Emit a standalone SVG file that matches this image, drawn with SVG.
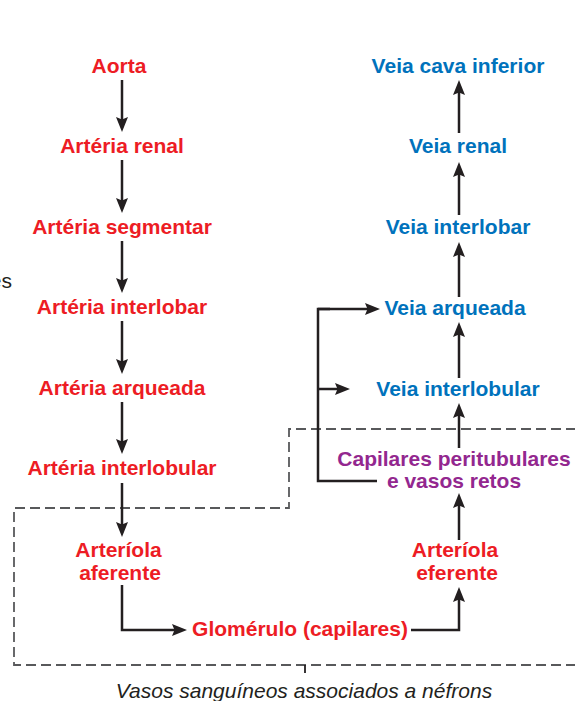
<svg xmlns="http://www.w3.org/2000/svg" width="575" height="701" viewBox="0 0 575 701">
  <style>
    .lbl { font-family: "Liberation Sans", Arial, sans-serif; font-weight: bold; font-size: 21px; text-anchor: middle; }
    .art { fill: #ed1c24; }
    .vein { fill: #0072bc; }
    .cap { fill: #93278f; }
    .flow { fill: none; stroke: #231f20; stroke-width: 2.5; marker-end: url(#head); }
    .wire { fill: none; stroke: #231f20; stroke-width: 2.5; }
    .zone { fill: none; stroke: #58595b; stroke-width: 1.8; stroke-dasharray: 10 5; }
    .note { font-family: "Liberation Sans", Arial, sans-serif; font-size: 21px; fill: #231f20; }
  </style>
  <defs>
    <marker id="head" markerUnits="userSpaceOnUse" markerWidth="16" markerHeight="14" viewBox="0 -7 16 14" refX="7" refY="0" orient="auto">
      <path d="M0,-6 L15,0 L0,6 L2.5,0 z" fill="#231f20"/>
    </marker>
  </defs>

  <rect width="575" height="701" fill="#ffffff"/>

  <!-- side label running off the left edge -->
  <text class="note" x="12" y="288" text-anchor="end">es</text>

  <!-- nephron-associated vessels zone -->
  <g id="nephron-zone">
    <path class="zone" d="M576,429 H289 V508 H14 V665 H576"/>
    <path d="M305,665 V673" stroke="#231f20" stroke-width="1.8" fill="none"/>
    <text class="note" x="304" y="698" text-anchor="middle" font-style="italic" font-size="21.2">Vasos sanguíneos associados a néfrons</text>
  </g>

  <!-- connectors -->
  <g id="connectors">
    <!-- arterial path, downward -->
    <path class="flow" d="M122,80 V124"/>
    <path class="flow" d="M122,160 V205"/>
    <path class="flow" d="M122,241 V285"/>
    <path class="flow" d="M122,321 V366"/>
    <path class="flow" d="M122,402 V446"/>
    <path class="flow" d="M122,483 V529"/>
    <path class="flow" d="M122,585 V630 H179"/>
    <path class="flow" d="M411,630 H459 V595"/>
    <!-- venous path, upward -->
    <path class="flow" d="M459,540 V501"/>
    <path class="flow" d="M459,448 V411"/>
    <path class="flow" d="M459,378 V330"/>
    <path class="flow" d="M459,297 V250"/>
    <path class="flow" d="M459,215 V170"/>
    <path class="flow" d="M459,133 V88"/>
    <!-- peritubular / vasa recta return branch -->
    <path class="wire" d="M377,481 H318 V309 H330"/>
    <path class="flow" d="M318,309 H372"/>
    <path class="flow" d="M318,389 H342"/>
  </g>

  <!-- arterial nodes -->
  <g id="aorta"><text class="lbl art" x="119" y="73">Aorta</text></g>
  <g id="arteria-renal"><text class="lbl art" x="122" y="153">Artéria renal</text></g>
  <g id="arteria-segmentar"><text class="lbl art" x="122" y="234">Artéria segmentar</text></g>
  <g id="arteria-interlobar"><text class="lbl art" x="122" y="314">Artéria interlobar</text></g>
  <g id="arteria-arqueada"><text class="lbl art" x="122" y="395">Artéria arqueada</text></g>
  <g id="arteria-interlobular"><text class="lbl art" x="122" y="475">Artéria interlobular</text></g>
  <g id="arteriola-aferente">
    <text class="lbl art" x="118.5" y="557">Arteríola</text>
    <text class="lbl art" x="120" y="580">aferente</text>
  </g>
  <g id="glomerulo"><text class="lbl art" x="300" y="636">Glomérulo (capilares)</text></g>
  <g id="arteriola-eferente">
    <text class="lbl art" x="455" y="557">Arteríola</text>
    <text class="lbl art" x="457" y="580">eferente</text>
  </g>

  <!-- capillary node -->
  <g id="capilares">
    <text class="lbl cap" x="454" y="466">Capilares peritubulares</text>
    <text class="lbl cap" x="454" y="488">e vasos retos</text>
  </g>

  <!-- venous nodes -->
  <g id="veia-interlobular"><text class="lbl vein" x="458" y="396">Veia interlobular</text></g>
  <g id="veia-arqueada"><text class="lbl vein" x="455" y="315">Veia arqueada</text></g>
  <g id="veia-interlobar"><text class="lbl vein" x="458" y="234">Veia interlobar</text></g>
  <g id="veia-renal"><text class="lbl vein" x="458" y="153">Veia renal</text></g>
  <g id="veia-cava-inferior"><text class="lbl vein" x="458" y="73">Veia cava inferior</text></g>
</svg>
